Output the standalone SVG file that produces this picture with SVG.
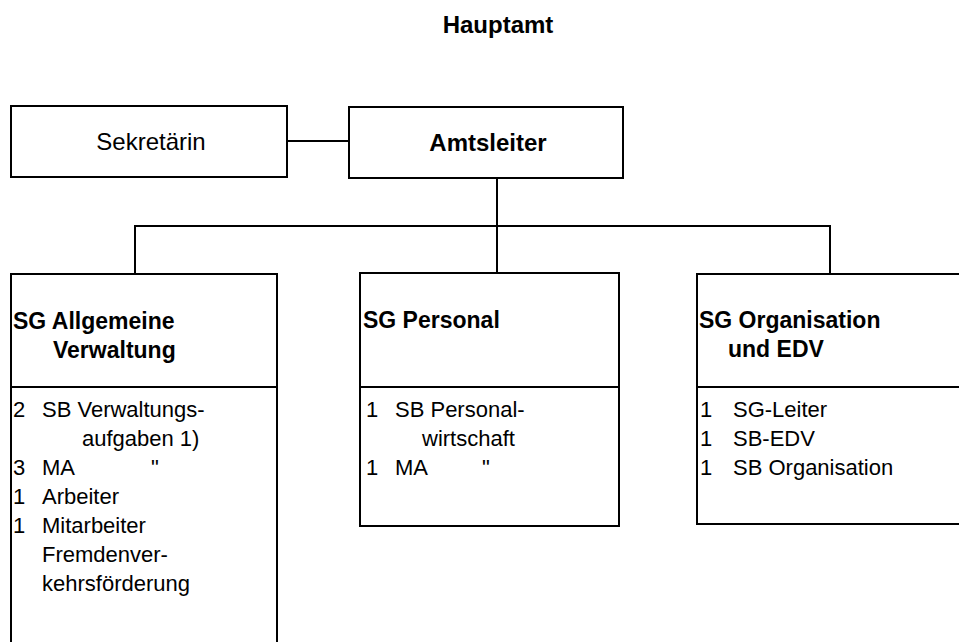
<svg xmlns="http://www.w3.org/2000/svg" width="959" height="642" viewBox="0 0 959 642">
  <style>
    .box { fill: #fff; stroke: #000; stroke-width: 2; }
    .rule { stroke: #000; stroke-width: 2; }
    .wire { fill: none; stroke: #000; stroke-width: 2; }
    text { font-family: "Liberation Sans", Arial, sans-serif; fill: #000; }
    .title { font-size: 24px; font-weight: bold; }
    .head { font-size: 24px; }
    .headb { font-size: 24px; font-weight: bold; }
    .grp { font-size: 23px; font-weight: bold; }
    .item { font-size: 22px; }
  </style>
  <rect width="959" height="642" fill="#fff"/>

  <text class="title" x="498" y="33" text-anchor="middle">Hauptamt</text>

  <g id="connectors">
    <line class="wire" x1="287" y1="141" x2="349" y2="141"/>
    <line class="wire" x1="497" y1="178" x2="497" y2="273"/>
    <polyline class="wire" points="135,274 135,226 830,226 830,274"/>
  </g>

  <g id="sekretaerin">
    <rect class="box" x="11" y="106" width="276" height="71"/>
    <text class="head" x="151" y="150" text-anchor="middle">Sekretärin</text>
  </g>

  <g id="amtsleiter">
    <rect class="box" x="349" y="107" width="274" height="71"/>
    <text class="headb" x="488" y="151" text-anchor="middle">Amtsleiter</text>
  </g>

  <g id="sg-allgemeine-verwaltung">
    <rect class="box" x="11" y="274" width="266" height="400"/>
    <line class="rule" x1="11" y1="387" x2="277" y2="387"/>
    <text class="grp" x="13" y="329">SG Allgemeine</text>
    <text class="grp" x="53" y="358">Verwaltung</text>
    <text class="item" x="13" y="417">2</text>
    <text class="item" x="42" y="417">SB Verwaltungs-</text>
    <text class="item" x="82" y="446">aufgaben 1)</text>
    <text class="item" x="13" y="475">3</text>
    <text class="item" x="42" y="475">MA</text>
    <text class="item" x="151" y="475">"</text>
    <text class="item" x="13" y="504">1</text>
    <text class="item" x="42" y="504">Arbeiter</text>
    <text class="item" x="13" y="533">1</text>
    <text class="item" x="42" y="533">Mitarbeiter</text>
    <text class="item" x="42" y="562">Fremdenver-</text>
    <text class="item" x="42" y="591">kehrsförderung</text>
  </g>

  <g id="sg-personal">
    <rect class="box" x="360" y="273" width="259" height="253"/>
    <line class="rule" x1="360" y1="387" x2="619" y2="387"/>
    <text class="grp" x="363" y="328">SG Personal</text>
    <text class="item" x="366" y="417">1</text>
    <text class="item" x="395" y="417">SB Personal-</text>
    <text class="item" x="422" y="446">wirtschaft</text>
    <text class="item" x="366" y="475">1</text>
    <text class="item" x="395" y="475">MA</text>
    <text class="item" x="482" y="475">"</text>
  </g>

  <g id="sg-organisation-edv">
    <rect class="box" x="697" y="274" width="270" height="250"/>
    <line class="rule" x1="697" y1="387" x2="967" y2="387"/>
    <text class="grp" x="699" y="328">SG Organisation</text>
    <text class="grp" x="728" y="357">und EDV</text>
    <text class="item" x="700" y="417">1</text>
    <text class="item" x="733" y="417">SG-Leiter</text>
    <text class="item" x="700" y="446">1</text>
    <text class="item" x="733" y="446">SB-EDV</text>
    <text class="item" x="700" y="475">1</text>
    <text class="item" x="733" y="475">SB Organisation</text>
  </g>
</svg>
